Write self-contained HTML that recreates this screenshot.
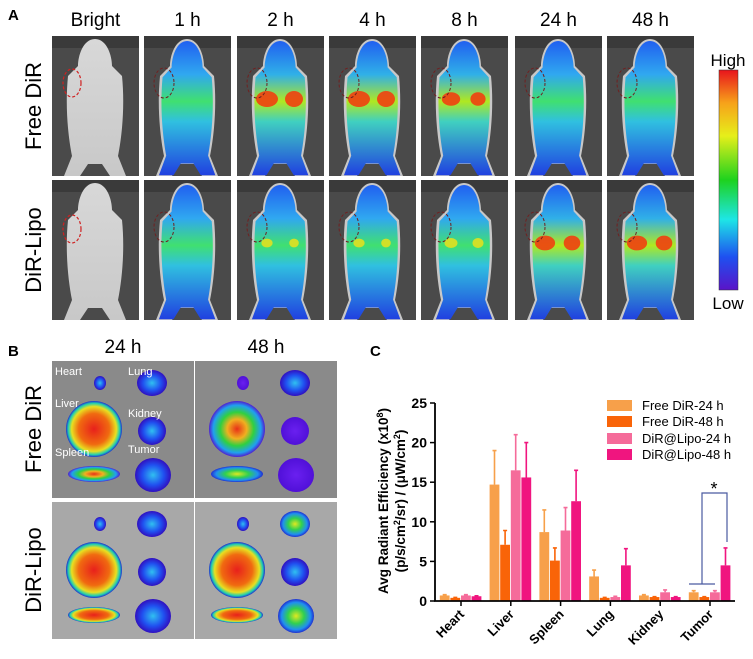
<!DOCTYPE html>
<html><head><meta charset="utf-8"><style>
body{margin:0;background:#fff;width:753px;height:659px;overflow:hidden;font-family:"Liberation Sans",sans-serif}
svg{position:absolute;left:0;top:0}
</style></head><body>
<svg id="fig" width="753" height="659" viewBox="0 0 753 659">
<defs>
<linearGradient id="cbar" x1="0" y1="0" x2="0" y2="1">
<stop offset="0" stop-color="#e8141c"/><stop offset="0.15" stop-color="#f7a21a"/><stop offset="0.3" stop-color="#e6ef1a"/><stop offset="0.5" stop-color="#1ed21e"/><stop offset="0.68" stop-color="#1ee6e6"/><stop offset="0.85" stop-color="#1e50f0"/><stop offset="1" stop-color="#5a14c8"/>
</linearGradient>
<linearGradient id="mouseLow" x1="0" y1="0" x2="0" y2="1">
<stop offset="0" stop-color="#2060f0"/><stop offset="0.25" stop-color="#30a8f0"/><stop offset="0.45" stop-color="#40e070"/><stop offset="0.6" stop-color="#30c0e0"/><stop offset="1" stop-color="#2040e0"/>
</linearGradient>
<linearGradient id="mouseHi" x1="0" y1="0" x2="0" y2="1">
<stop offset="0" stop-color="#2060f0"/><stop offset="0.25" stop-color="#30b0e8"/><stop offset="0.45" stop-color="#b0e820"/><stop offset="0.6" stop-color="#40d0c0"/><stop offset="1" stop-color="#2040e0"/>
</linearGradient>
<linearGradient id="bright" x1="0" y1="0" x2="0" y2="1"><stop offset="0" stop-color="#d8d8d8"/><stop offset="1" stop-color="#c8c8c8"/></linearGradient>
<radialGradient id="organHot"><stop offset="0" stop-color="#e8201c"/><stop offset="0.55" stop-color="#f06a10"/><stop offset="0.8" stop-color="#e8e020"/><stop offset="0.92" stop-color="#20d0b0"/><stop offset="1" stop-color="#2030d0"/></radialGradient>
<radialGradient id="organMid"><stop offset="0" stop-color="#e83018"/><stop offset="0.35" stop-color="#f0b020"/><stop offset="0.6" stop-color="#30d040"/><stop offset="0.85" stop-color="#20a0f0"/><stop offset="1" stop-color="#5020d0"/></radialGradient>
<radialGradient id="organBlue"><stop offset="0" stop-color="#30c0f0"/><stop offset="0.6" stop-color="#2050f0"/><stop offset="1" stop-color="#3010c0"/></radialGradient>
<radialGradient id="organViolet"><stop offset="0" stop-color="#6a20f0"/><stop offset="1" stop-color="#5010d8"/></radialGradient>
<radialGradient id="organGreen"><stop offset="0" stop-color="#e0e820"/><stop offset="0.45" stop-color="#30d050"/><stop offset="0.8" stop-color="#2090f0"/><stop offset="1" stop-color="#2030d0"/></radialGradient>
</defs>
<g id="panelA"></g>
<g id="panelB"></g>
<g id="chart"></g>
</svg>
<script>
const NS='http://www.w3.org/2000/svg';
function mk(tag,attrs,parent,txt){const e=document.createElementNS(NS,tag);for(const k in attrs)e.setAttribute(k,attrs[k]);if(txt!==undefined)e.textContent=txt;parent.appendChild(e);return e;}
const A=document.getElementById('panelA');
// Panel A
let t=mk('text',{x:8,y:20,'font-size':15,'font-weight':'bold'},A,'A');


const times=['Bright','1 h','2 h','4 h','8 h','24 h','48 h'];
const px=[52,144,237,329,421,515,607];
const rowsY=[36,180];
const hot=[[0,0,1,1,0.8,0,0],[0,0,0.4,0.4,0.5,0.9,0.9]];
times.forEach((tm,i)=>{
  const h=mk('text',{x:px[i]+43.5,y:26,'font-size':19,'text-anchor':'middle'},A,tm);
  
  
  rowsY.forEach((ry,r)=>{
    const g=mk('g',{transform:`translate(${px[i]},${ry})`},A);
    
    
    mk('rect',{x:0,y:0,width:87,height:140,fill:'#4a4a4a'},g);
    mk('rect',{x:0,y:0,width:87,height:12,fill:'#3a3a3a'},g);
    const d='M43,3 C55,3 60,20 60,30 L70,40 C73,70 70,100 66,120 L74,140 L58,140 L50,128 L36,128 L28,140 L12,140 L20,120 C16,100 13,70 16,40 L26,30 C26,20 31,3 43,3 Z';
    if(i==0){mk('path',{d:d,fill:'url(#bright)'},g);
      mk('ellipse',{cx:20,cy:r?49:47,rx:9,ry:14,fill:'none',stroke:'#d02020','stroke-width':1.2,'stroke-dasharray':'3,2'},g);}
    else{
      mk('path',{d:d,fill:'#c8c8c8'},g);
      mk('path',{d:d,fill:hot[r][i]>0.7?'url(#mouseHi)':'url(#mouseLow)',transform:'translate(4,2) scale(0.91,0.98)'},g);
      const v=hot[r][i];
      if(v>0.3){
        mk('ellipse',{cx:30,cy:63,rx:9*v+2,ry:6*v+2,fill:v>0.7?'#f04010':'#e0e020',opacity:0.9},g);
        mk('ellipse',{cx:57,cy:63,rx:7*v+2,ry:6*v+2,fill:v>0.7?'#f04010':'#e0e020',opacity:0.9},g);
      }
      mk('ellipse',{cx:20,cy:47,rx:10,ry:15,fill:'none',stroke:'#702020','stroke-width':1,'stroke-dasharray':'3,2'},g);
    }
  });
});
['Free DiR','DiR-Lipo'].forEach((lab,r)=>{
  const l=mk('text',{transform:`translate(41,${rowsY[r]+70}) rotate(-90)`,'font-size':22,'text-anchor':'middle'},A,lab);
  
  
});
const cb=mk('rect',{x:719,y:70,width:19,height:220,fill:'url(#cbar)',stroke:'#333','stroke-width':0.5},A);


t=mk('text',{x:728,y:66,'font-size':17,'text-anchor':'middle'},A,'High');


t=mk('text',{x:728,y:309,'font-size':17,'text-anchor':'middle'},A,'Low');



// Panel B
const B=document.getElementById('panelB');
t=mk('text',{x:8,y:356,'font-size':15,'font-weight':'bold'},B,'B');


const bx=[52,195],by=[361,502];
['24 h','48 h'].forEach((h,i)=>{t=mk('text',{x:bx[i]+71,y:353,'font-size':19,'text-anchor':'middle'},B,h);

});
['Free DiR','DiR-Lipo'].forEach((lab,r)=>{t=mk('text',{transform:`translate(41,${by[r]+68}) rotate(-90)`,'font-size':22,'text-anchor':'middle'},B,lab);

});
const fills=[[['organBlue','organBlue','organHot','organBlue','organMid','organBlue'],['organViolet','organBlue','organMid','organViolet','organGreen','organViolet']],
             [['organBlue','organBlue','organHot','organBlue','organHot','organBlue'],['organBlue','organGreen','organHot','organBlue','organHot','organGreen']]];
for(let r=0;r<2;r++)for(let c=0;c<2;c++){
  const g=mk('g',{transform:`translate(${bx[c]},${by[r]})`},B);
  
  
  mk('rect',{x:0,y:0,width:142,height:137,fill:r?'#a8a8a8':'#8a8a8a'},g);
  const f=fills[r][c];
  mk('ellipse',{cx:48,cy:22,rx:6,ry:7,fill:'url(#'+f[0]+')'},g);
  mk('ellipse',{cx:100,cy:22,rx:15,ry:13,fill:'url(#'+f[1]+')'},g);
  mk('ellipse',{cx:42,cy:68,rx:28,ry:28,fill:'url(#'+f[2]+')'},g);
  mk('ellipse',{cx:100,cy:70,rx:14,ry:14,fill:'url(#'+f[3]+')'},g);
  mk('ellipse',{cx:42,cy:113,rx:26,ry:8,fill:'url(#'+f[4]+')'},g);
  mk('ellipse',{cx:101,cy:114,rx:18,ry:17,fill:'url(#'+f[5]+')'},g);
  if(r==0&&c==0){
    [['Heart',3,14],['Lung',76,14],['Liver',3,46],['Kidney',76,56],['Spleen',3,95],['Tumor',76,92]].forEach(o=>{
      t=mk('text',{x:o[1],y:o[2],'font-size':11,fill:'#fff'},g,o[0]);
      
      
    });
  }
}

// Chart C
const categories=['Heart','Liver','Spleen','Lung','Kidney','Tumor'];
const seriesNames=['Free DiR-24 h','Free DiR-48 h','DiR@Lipo-24 h','DiR@Lipo-48 h'];
const seriesColors=['#f7a04a','#f96408','#f56b9a','#f0157f'];
const freeDiR24=[0.7,14.7,8.7,3.1,0.7,1.1];
const freeDiR48=[0.4,7.1,5.1,0.4,0.5,0.5];
const lipo24=[0.7,16.5,8.9,0.5,1.1,1.1];
const lipo48=[0.6,15.6,12.6,4.5,0.5,4.5];
const freeDiR24Err=[0.1,4.3,2.8,0.8,0.1,0.2];
const freeDiR48Err=[0.05,1.8,1.6,0.05,0.05,0.05];
const lipo24Err=[0.1,4.5,2.9,0.1,0.3,0.2];
const lipo48Err=[0.05,4.4,3.9,2.1,0.05,2.2];
const yTicks=[0,5,10,15,20,25];
const series=[freeDiR24,freeDiR48,lipo24,lipo48];
const errs=[freeDiR24Err,freeDiR48Err,lipo24Err,lipo48Err];
const C=document.getElementById('chart');
const x0=435,x1=735,yb=601,yt=403,ymax=25;
const yS=v=>yb-(v/ymax)*(yb-yt);
const step=49.8,first=461;
const xS=i=>first+i*step;
const bw=10.6;
t=mk('text',{x:370,y:356,'font-size':15,'font-weight':'bold'},C,'C');


series.forEach((s,si)=>{
  s.forEach((v,ci)=>{
    const bx0=xS(ci)+(si-2)*bw;
    const r=mk('rect',{x:bx0,y:yS(v),width:bw-0.8,height:yb-yS(v),fill:seriesColors[si]},C);
    
    
    const cx=bx0+bw/2-0.4,ye=yS(v+errs[si][ci]);
    const e=mk('path',{d:`M${cx},${yS(v)}V${ye}M${cx-2},${ye}H${cx+2}`,stroke:seriesColors[si],'stroke-width':1.6,fill:'none'},C);
    
    
  });
});
let ax=mk('path',{d:`M${x0},${yt}V${yb}H${x1}`,stroke:'#000','stroke-width':1.8,fill:'none'},C);


yTicks.forEach(v=>{
  mk('line',{x1:x0-5,x2:x0,y1:yS(v),y2:yS(v),stroke:'#000','stroke-width':1.5},C);
  t=mk('text',{x:x0-8,y:yS(v)+5,'font-size':14,'font-weight':'bold','text-anchor':'end'},C,v);
  
  
});
categories.forEach((c,i)=>{
  mk('line',{x1:xS(i),x2:xS(i),y1:yb,y2:yb+5,stroke:'#000','stroke-width':1.5},C);
  t=mk('text',{transform:`translate(${xS(i)+4},${yb+14}) rotate(-45)`,'font-size':13,'font-weight':'bold','text-anchor':'end'},C,c);
  
  
});
t=mk('text',{transform:'translate(388,501) rotate(-90)','font-size':13.5,'font-weight':'bold','text-anchor':'middle'},C);


t.innerHTML='Avg Radiant Efficiency (x10<tspan dy="-5" font-size="9">8</tspan><tspan dy="5">)</tspan>';
t=mk('text',{transform:'translate(405,501) rotate(-90)','font-size':13.5,'font-weight':'bold','text-anchor':'middle'},C);


t.innerHTML='(p/s/cm<tspan dy="-5" font-size="9">2</tspan><tspan dy="5">/sr) / (μW/cm</tspan><tspan dy="-5" font-size="9">2</tspan><tspan dy="5">)</tspan>';
const ly=[405,421,438,454];
seriesNames.forEach((n,i)=>{
  const r=mk('rect',{x:607,y:ly[i]-5,width:25,height:11,fill:seriesColors[i]},C);
  
  
  t=mk('text',{x:642,y:ly[i]+5,'font-size':13},C,n);
  
  
});
const sig=mk('path',{d:'M689,584H715M702,584V493H727V542',stroke:'#4a5aa0','stroke-width':1.2,fill:'none'},C);


t=mk('text',{x:714,y:495,'font-size':18,'text-anchor':'middle'},C,'*');


</script>
</body></html>
